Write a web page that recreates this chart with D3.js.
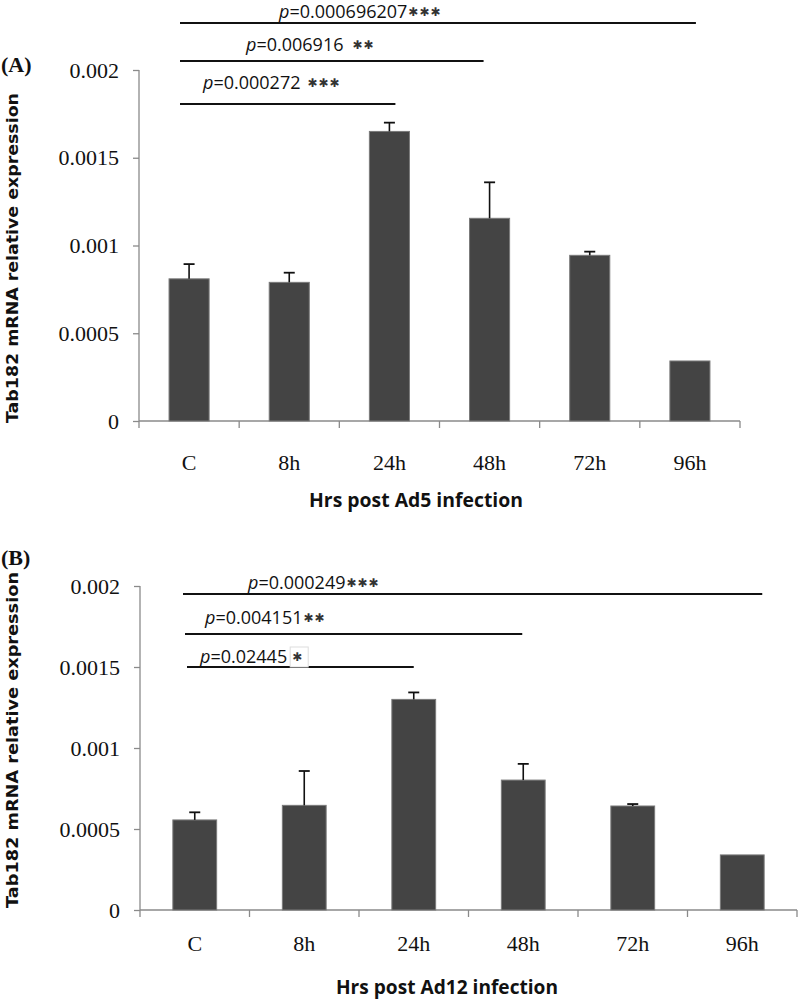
<!DOCTYPE html>
<html>
<head>
<meta charset="utf-8">
<script src="https://cdn.jsdelivr.net/npm/d3@7"></script>
<style>
  html, body { margin: 0; padding: 0; background: #fff; }
  svg { display: block; }
</style>
</head>
<body>
<script>
// ---------------- DATA ----------------
const categories = ["C", "8h", "24h", "48h", "72h", "96h"];
const ad5Values  = [0.00081, 0.00079, 0.00165, 0.001155, 0.000944, 0.000342];
const ad5Errors  = [0.000084, 0.000055, 0.00005, 0.000205, 0.000021, 0];
const ad12Values = [0.000556, 0.000646, 0.0013, 0.000802, 0.000642, 0.00034];
const ad12Errors = [0.000047, 0.000212, 0.000043, 0.0001, 0.000012, 0];
const yTickValues = [0, 0.0005, 0.001, 0.0015, 0.002];
const yTickLabels = ["0", "0.0005", "0.001", "0.0015", "0.002"];
const ad5PValues  = ["0.000696207", "0.006916", "0.000272"];
const ad5Stars    = ["✱✱✱", "✱✱", "✱✱✱"];
const ad5Targets  = ["96h", "48h", "24h"];
const ad12PValues = ["0.000249", "0.004151", "0.02445"];
const ad12Stars   = ["✱✱✱", "✱✱", "✱"];
const ad12Targets = ["96h", "48h", "24h"];
const yTitle = "Tab182 mRNA relative expression";
const ad5XTitle = "Hrs post Ad5 infection";
const ad12XTitle = "Hrs post Ad12 infection";

// ---------------- LAYOUT ----------------
const W = 800, H = 1001;
const svg = d3.select("body").append("svg").attr("width", W).attr("height", H);

const panels = [
  {
    tag: "(A)", tagY: 72,
    xRange: [139, 740], yRange: [421, 70],
    values: ad5Values, errors: ad5Errors,
    catLabelY: 470, yTitleCY: 258, yTitleLen: 330,
    xTitle: ad5XTitle, xTitleX: 416, xTitleY: 507, xTitleLen: 214,
    pvals: ad5PValues, stars: ad5Stars, targets: ad5Targets,
    lineY: [23, 61, 104], lineStart: [180, 180, 180], lineEndOff: [6, -6, 6],
    textX: [279, 246, 203], textY: [18, 51, 89], starGap: [0, 8, 6],
    boxStar: [false, false, false]
  },
  {
    tag: "(B)", tagY: 565,
    xRange: [140, 797], yRange: [910, 586],
    values: ad12Values, errors: ad12Errors,
    catLabelY: 951, yTitleCY: 740, yTitleLen: 336,
    xTitle: ad12XTitle, xTitleX: 447, xTitleY: 994, xTitleLen: 222,
    pvals: ad12PValues, stars: ad12Stars, targets: ad12Targets,
    lineY: [594, 634, 667], lineStart: [183, 185, 187], lineEndOff: [20, -1, 0],
    textX: [248, 205, 200], textY: [589, 624, 663], starGap: [0, 0, 4],
    boxStar: [false, false, true]
  }
];

panels.forEach(p => {
  const g = svg.append("g");
  const x = d3.scaleBand().domain(categories).range(p.xRange)
    .paddingInner(0.6).paddingOuter(0.3);
  const y = d3.scaleLinear().domain([0, 0.002]).range(p.yRange);

  // y axis
  const yAxis = d3.axisLeft(y).tickValues(yTickValues)
    .tickFormat((d, i) => yTickLabels[i]).tickSize(6).tickPadding(14);
  const ya = g.append("g").attr("transform", `translate(${p.xRange[0]},0)`).call(yAxis);
  ya.selectAll("path,line").attr("stroke", "#8a8a8a").attr("stroke-width", 1.3);
  ya.select(".domain").attr("d", `M0,${p.yRange[1]}V${p.yRange[0]}`);
  ya.selectAll("text").attr("font-family", "'Liberation Serif', 'Times New Roman', serif")
    .attr("font-size", 22).attr("fill", "#111");

  // x axis with category labels
  const xAxis = d3.axisBottom(x).tickSize(0).tickPadding(0);
  const xa = g.append("g").attr("transform", `translate(0,${p.yRange[0]})`).call(xAxis);
  xa.select(".domain").attr("stroke", "#8a8a8a").attr("stroke-width", 1.3)
    .attr("d", `M${p.xRange[0]},0H${p.xRange[1]}`);
  xa.selectAll("text").attr("font-family", "'Liberation Serif', 'Times New Roman', serif")
    .attr("font-size", 22).attr("fill", "#111")
    .attr("dy", null).attr("y", p.catLabelY - p.yRange[0]);
  // boundary tick marks between categories
  const bounds = categories.map((c, i) => i === 0 ? p.xRange[0] : x(c) - x.step() * x.paddingInner() / 2);
  bounds.push(p.xRange[1]);
  xa.selectAll(".bnd").data(bounds).join("line").attr("class", "bnd")
    .attr("x1", d => d).attr("x2", d => d).attr("y1", 0).attr("y2", 7)
    .attr("stroke", "#8a8a8a").attr("stroke-width", 1.3);

  // bars
  g.selectAll(".bar").data(p.values).join("rect").attr("class", "bar")
    .attr("x", (d, i) => x(categories[i]))
    .attr("width", x.bandwidth())
    .attr("y", d => y(d))
    .attr("height", d => y(0) - y(d))
    .attr("fill", "#444444").attr("stroke", "#7a7a7a").attr("stroke-width", 1);

  // error bars
  const eb = g.selectAll(".eb").data(p.values.map((v, i) => ({v, e: p.errors[i], c: categories[i]})).filter(d => d.e > 0))
    .join("g").attr("class", "eb");
  eb.append("line")
    .attr("x1", d => x(d.c) + x.bandwidth() / 2).attr("x2", d => x(d.c) + x.bandwidth() / 2)
    .attr("y1", d => y(d.v)).attr("y2", d => y(d.v + d.e))
    .attr("stroke", "#111").attr("stroke-width", 1.6);
  eb.append("line")
    .attr("x1", d => x(d.c) + x.bandwidth() / 2 - 5.5).attr("x2", d => x(d.c) + x.bandwidth() / 2 + 5.5)
    .attr("y1", d => y(d.v + d.e)).attr("y2", d => y(d.v + d.e))
    .attr("stroke", "#111").attr("stroke-width", 1.8);

  // panel tag
  g.append("text").attr("x", 1).attr("y", p.tagY).text(p.tag)
    .attr("font-family", "'Liberation Serif', 'Times New Roman', serif")
    .attr("font-weight", "bold").attr("font-size", 22).attr("fill", "#111");

  // y title
  g.append("text")
    .attr("transform", `translate(18,${p.yTitleCY}) rotate(-90)`)
    .attr("text-anchor", "middle")
    .attr("font-family", "'DejaVu Sans', Verdana, sans-serif")
    .attr("font-weight", "bold").attr("font-size", 16).attr("fill", "#111")
    .attr("textLength", p.yTitleLen).attr("lengthAdjust", "spacingAndGlyphs")
    .text(yTitle);

  // x title
  g.append("text")
    .attr("x", p.xTitleX).attr("y", p.xTitleY).attr("text-anchor", "middle")
    .attr("font-family", "'Open Sans', 'Liberation Sans', sans-serif")
    .attr("font-weight", "bold").attr("font-size", 19).attr("fill", "#111")
    .attr("textLength", p.xTitleLen).attr("lengthAdjust", "spacingAndGlyphs")
    .text(p.xTitle);

  // significance annotations
  p.pvals.forEach((pv, i) => {
    const xEnd = x(p.targets[i]) + x.bandwidth() / 2 + p.lineEndOff[i];
    g.append("line")
      .attr("x1", p.lineStart[i]).attr("x2", xEnd)
      .attr("y1", p.lineY[i]).attr("y2", p.lineY[i])
      .attr("stroke", "#111").attr("stroke-width", 2);
    const t = g.append("text").attr("x", p.textX[i]).attr("y", p.textY[i])
      .attr("font-family", "'Open Sans', 'Liberation Sans', sans-serif")
      .attr("font-size", 18).attr("fill", "#111");
    t.append("tspan").attr("font-style", "italic").text("p");
    t.append("tspan").text("=" + pv);
    const bb = t.node().getBBox();
    const sx = bb.x + bb.width + p.starGap[i];
    if (p.boxStar[i]) {
      g.append("rect").attr("x", sx - 1).attr("y", p.textY[i] - 16)
        .attr("width", 18).attr("height", 20)
        .attr("fill", "#fff").attr("stroke", "#ddd").attr("stroke-width", 1);
    }
    g.append("text").attr("x", sx + 1).attr("y", p.textY[i] - 2)
      .attr("font-family", "'DejaVu Sans', sans-serif")
      .attr("font-size", 12).attr("fill", "#333").attr("letter-spacing", 1)
      .text(p.stars[i]);
  });
});
</script>
</body>
</html>
